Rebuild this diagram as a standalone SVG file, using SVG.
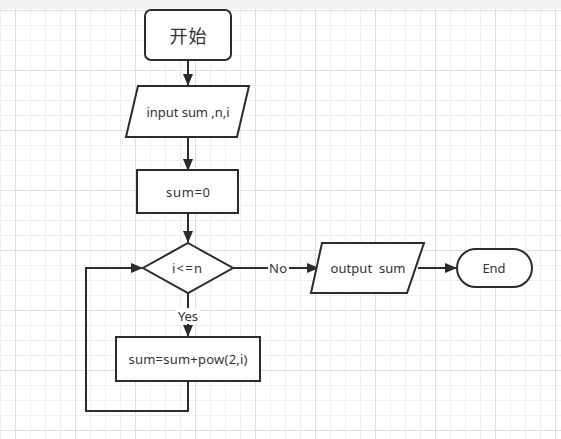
<svg xmlns="http://www.w3.org/2000/svg" width="561" height="439" viewBox="0 0 561 439">
<defs>
<pattern id="grid" patternUnits="userSpaceOnUse" x="15" y="10" width="60" height="60">
<path d="M15.5 0V60M30.5 0V60M45.5 0V60M0 15.5H60M0 30.5H60M0 45.5H60" stroke="#eeeeee" stroke-width="1" fill="none"/>
<path d="M0.5 0V60M0 0.5H60" stroke="#dedede" stroke-width="1" fill="none"/>
</pattern>
<marker id="arr" viewBox="0 0 12 10" refX="11" refY="5" markerWidth="12" markerHeight="10" markerUnits="userSpaceOnUse" orient="auto">
<path d="M0 0L12 5L0 10Z" fill="#2b2b2b"/>
</marker>
<style>
.shape{fill:#ffffff;stroke:#2b2b2b;stroke-width:2}
.edge{fill:none;stroke:#2b2b2b;stroke-width:2}
.t{font-family:"Noto Sans","Noto Sans CJK SC",sans-serif;font-size:13px;fill:#333333;text-anchor:middle;dominant-baseline:central}
.lbl{fill:#ffffff}
</style>
</defs>
<rect width="561" height="439" fill="#ffffff"/>
<rect width="561" height="439" fill="url(#grid)"/>
<rect width="561" height="9" fill="#f2f2f2"/>

<g id="connectors">
<path class="edge" d="M188 60V85" marker-end="url(#arr)"/>
<path class="edge" d="M188 137V170" marker-end="url(#arr)"/>
<path class="edge" d="M188 213V242" marker-end="url(#arr)"/>
<path class="edge" d="M188 293V336" marker-end="url(#arr)"/>
<path class="edge" d="M188 381V411H86V268H142" marker-end="url(#arr)"/>
<path class="edge" d="M233 268H318" marker-end="url(#arr)"/>
<path class="edge" d="M418 268H456" marker-end="url(#arr)"/>
<rect class="lbl" x="176" y="308" width="24" height="16"/>
<text class="t" x="188" y="316" textLength="20" lengthAdjust="spacing">Yes</text>
<rect class="lbl" x="268" y="261" width="21" height="15"/>
<text class="t" x="278" y="268" textLength="18" lengthAdjust="spacing">No</text>
</g>

<g id="start">
<rect class="shape" x="145" y="10" width="86" height="50" rx="6"/>
<text class="t" x="188" y="36" style="font-size:18px" textLength="37" lengthAdjust="spacing">开始</text>
</g>
<g id="input">
<path class="shape" d="M138 86H249L237 137H126Z"/>
<text class="t" x="188" y="112" textLength="83" lengthAdjust="spacing">input sum ,n,i</text>
</g>
<g id="init">
<rect class="shape" x="137" y="170" width="101" height="43"/>
<text class="t" x="188" y="192" textLength="44" lengthAdjust="spacing">sum=0</text>
</g>
<g id="cond">
<path class="shape" d="M188 243L233 268L188 293L143 268Z"/>
<text class="t" x="187" y="268" textLength="30" lengthAdjust="spacing">i&lt;=n</text>
</g>
<g id="body">
<rect class="shape" x="116" y="337" width="144" height="44"/>
<text class="t" x="188" y="359" textLength="119" lengthAdjust="spacing">sum=sum+pow(2,i)</text>
</g>
<g id="output">
<path class="shape" d="M322 243H424L407 293H311Z"/>
<text class="t" x="368" y="268" xml:space="preserve" textLength="75" lengthAdjust="spacing">output  sum</text>
</g>
<g id="end">
<rect class="shape" x="457" y="249" width="75" height="38" rx="19"/>
<text class="t" x="494" y="268" textLength="23" lengthAdjust="spacing">End</text>
</g>
</svg>
